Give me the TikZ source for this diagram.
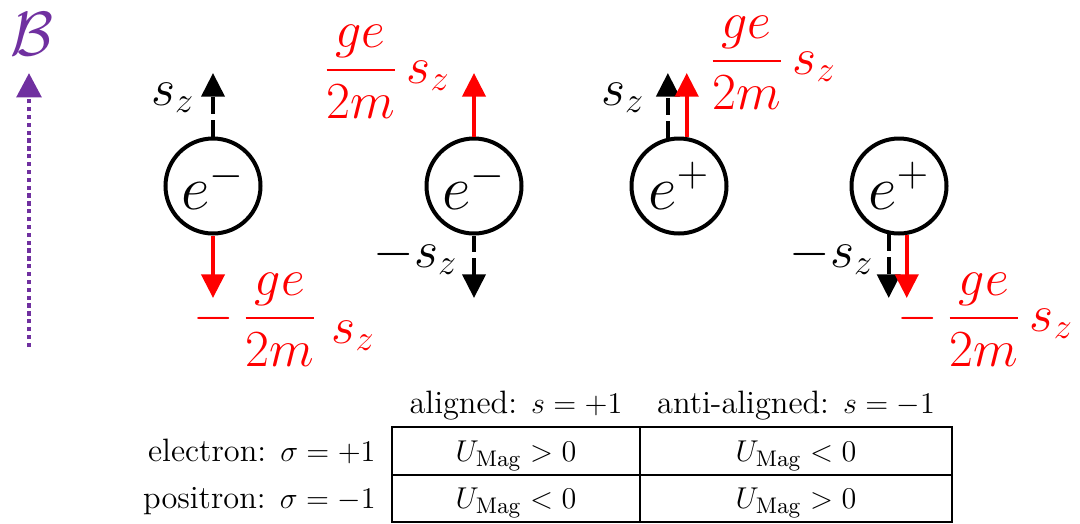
\documentclass[tikz,border=0pt]{standalone}
\usepackage{amsmath}
\usetikzlibrary{arrows.meta,positioning}
\definecolor{bfield}{RGB}{112,48,160}
\definecolor{mag}{RGB}{255,0,0}

\begin{document}
\begin{tikzpicture}[
    x=0.14mm, y=-0.14mm,
    particle/.style={circle, draw, line width=0.56mm, minimum size=13.3mm, inner sep=0pt, font=\fontsize{25}{28}\selectfont},
    spin/.style={line width=0.56mm, dash pattern=on 2.3mm off 0.9mm, -{Triangle[width=3.2mm,length=3.3mm]}},
    moment/.style={mag, line width=0.6mm, -{Triangle[width=3.2mm,length=3.3mm]}},
    spinlbl/.style={inner sep=0pt, anchor=base east, font=\fontsize{21}{25}\selectfont},
    momlbl/.style={inner sep=0pt, anchor=base west, text=mag, font=\fontsize{21}{25}\selectfont},
    cell/.style={inner sep=0pt, anchor=base, font=\fontsize{12.9}{15}\selectfont}
]
    \useasboundingbox (0,0) rectangle (1080,523);

    % Field direction
    \node[inner sep=0pt, text=bfield, font=\fontsize{25}{30}\selectfont] (blabel) at (32,34) {$\mathcal{B}$};
    \coordinate (btail) at (29,347);
    \coordinate (bhead) at (29,73);
    \draw[bfield, line width=0.65mm, dash pattern=on 0.6mm off 0.5mm, -{Triangle[width=3.4mm,length=3.4mm]}] (btail) -- (bhead);

    % Particles
    \node[particle] (em1) at (213,186) {$e^-$};
    \node[particle] (em2) at (474,186) {$e^-$};
    \node[particle] (ep1) at (679,186) {$e^+$};
    \node[particle] (ep2) at (899,186) {$e^+$};

    % Arrow ends
    \coordinate (up) at (0,73);
    \coordinate (down) at (0,298);

    % Electron, spin up
    \draw[spin] (em1.north) -- (em1.north |- up);
    \draw[moment] (em1.south) -- (em1.south |- down);
    \node[spinlbl] (sz1) at (195,105) {$s_z$};
    \node[momlbl] (mu1) at (193,331) {$-\,\dfrac{ge}{2m}\;\raisebox{-1.7mm}{$s_z$}$};

    % Electron, spin down
    \draw[moment] (em2.north) -- (em2.north |- up);
    \draw[spin] (em2.south) -- (em2.south |- down);
    \node[spinlbl] (sz2) at (458,267) {$-s_z$};
    \node[momlbl] (mu2) at (323,83) {$\dfrac{ge}{2m}\,s_z$};

    % Positron, spin up
    \draw[spin] (ep1.103) -- (ep1.103 |- up);
    \draw[moment] (ep1.81) -- (ep1.81 |- up);
    \node[spinlbl] (sz3) at (645,105) {$s_z$};
    \node[momlbl] (mu3) at (709,74) {$\dfrac{ge}{2m}\,s_z$};

    % Positron, spin down
    \draw[spin] (ep2.258) -- (ep2.258 |- down);
    \draw[moment] (ep2.279) -- (ep2.279 |- down);
    \node[spinlbl] (sz4) at (874,267) {$-s_z$};
    \node[momlbl] (mu4) at (897,331) {$-\,\dfrac{ge}{2m}\,s_z$};

    % Sign table
    \draw[line width=0.6pt] (392,427) rectangle (952,522);
    \draw[line width=0.6pt] (392,475) -- (952,475);
    \draw[line width=0.6pt] (640,427) -- (640,522);
    \node[cell] (hal) at (516,413) {aligned: $s=+1$};
    \node[cell] (hanti) at (796,413) {anti-aligned: $s=-1$};
    \node[cell, anchor=base east] (rel) at (376,461) {electron: $\sigma=+1$};
    \node[cell, anchor=base east] (rpos) at (376,508) {positron: $\sigma=-1$};
    \node[cell] (c11) at (516,461) {$U_{\mathrm{Mag}}>0$};
    \node[cell] (c12) at (796,461) {$U_{\mathrm{Mag}}<0$};
    \node[cell] (c21) at (516,508) {$U_{\mathrm{Mag}}<0$};
    \node[cell] (c22) at (796,508) {$U_{\mathrm{Mag}}>0$};
\end{tikzpicture}
\end{document}
